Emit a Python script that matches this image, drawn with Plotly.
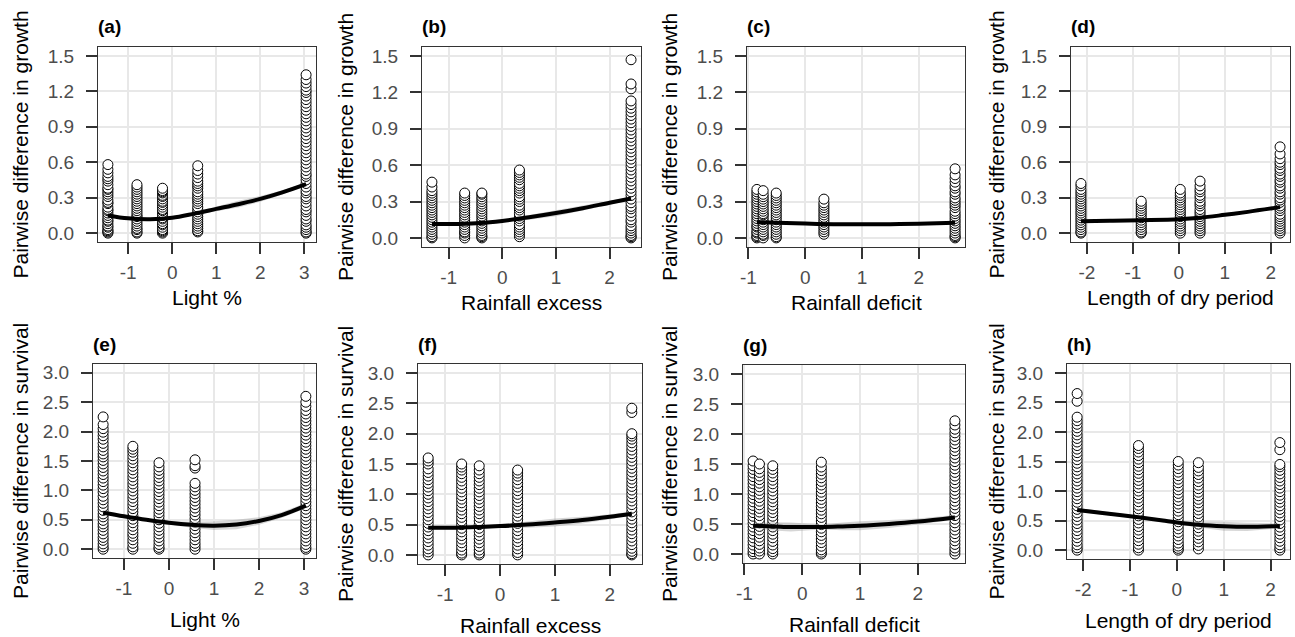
import plotly.graph_objects as go

W, H = 1295, 637

# ---------------- data ----------------
light_x = [-1.46, -0.80, -0.22, 0.58, 3.04]
excess_x = [-1.31, -0.70, -0.38, 0.32, 2.40]
deficit_x = [-0.85, -0.74, -0.51, 0.33, 2.64]
dry_x = [-2.13, -0.82, 0.03, 0.46, 2.20]

# growth (row 1)
a1 = [0.0, 0.01, 0.02, 0.03, 0.05, 0.06, 0.08, 0.1, 0.11, 0.13, 0.15, 0.17, 0.19, 0.2, 0.22, 0.25, 0.26, 0.28, 0.31, 0.33, 0.35, 0.37, 0.38, 0.41, 0.44, 0.46, 0.48, 0.51, 0.54, 0.58]
a2 = [0.0, 0.01, 0.03, 0.04, 0.06, 0.08, 0.1, 0.12, 0.14, 0.15, 0.17, 0.19, 0.21, 0.23, 0.25, 0.27, 0.29, 0.31, 0.33, 0.35, 0.37, 0.39, 0.41]
a3 = [0.0, 0.01, 0.02, 0.03, 0.05, 0.07, 0.08, 0.1, 0.12, 0.13, 0.15, 0.17, 0.19, 0.2, 0.22, 0.24, 0.26, 0.27, 0.29, 0.31, 0.32, 0.34, 0.35, 0.36, 0.38]
a4 = [0.01, 0.02, 0.04, 0.06, 0.08, 0.1, 0.12, 0.14, 0.16, 0.18, 0.2, 0.22, 0.25, 0.27, 0.29, 0.31, 0.33, 0.35, 0.38, 0.4, 0.42, 0.44, 0.47, 0.5, 0.53, 0.57]
a5 = [0.0, 0.01, 0.03, 0.05, 0.07, 0.1, 0.12, 0.15, 0.18, 0.2, 0.23, 0.26, 0.29, 0.31, 0.34, 0.36, 0.39, 0.42, 0.45, 0.48, 0.5, 0.53, 0.56, 0.59, 0.62, 0.65, 0.68, 0.71, 0.74, 0.77, 0.8, 0.83, 0.86, 0.89, 0.92, 0.95, 0.98, 1.01, 1.04, 1.07, 1.1, 1.13, 1.16, 1.19, 1.21, 1.24, 1.27, 1.3, 1.34]

b1 = [0.0, 0.01, 0.03, 0.05, 0.07, 0.09, 0.11, 0.13, 0.15, 0.17, 0.19, 0.21, 0.23, 0.25, 0.27, 0.29, 0.31, 0.33, 0.35, 0.37, 0.39, 0.42, 0.46]
b2 = [0.0, 0.02, 0.04, 0.05, 0.07, 0.09, 0.11, 0.13, 0.15, 0.17, 0.19, 0.21, 0.23, 0.25, 0.27, 0.29, 0.31, 0.33, 0.35, 0.37]
b3 = [0.0, 0.01, 0.02, 0.04, 0.06, 0.08, 0.1, 0.12, 0.14, 0.16, 0.18, 0.2, 0.22, 0.24, 0.26, 0.28, 0.3, 0.32, 0.34, 0.36, 0.37]
b4 = [0.01, 0.03, 0.05, 0.07, 0.09, 0.11, 0.14, 0.16, 0.18, 0.2, 0.23, 0.25, 0.27, 0.3, 0.32, 0.34, 0.37, 0.39, 0.41, 0.43, 0.45, 0.48, 0.5, 0.52, 0.54, 0.56]
b5 = [0.0, 0.01, 0.02, 0.04, 0.06, 0.08, 0.1, 0.13, 0.15, 0.18, 0.21, 0.24, 0.26, 0.29, 0.32, 0.35, 0.38, 0.41, 0.44, 0.47, 0.5, 0.53, 0.56, 0.59, 0.62, 0.65, 0.68, 0.71, 0.74, 0.77, 0.8, 0.83, 0.86, 0.89, 0.92, 0.95, 0.98, 1.01, 1.04, 1.07, 1.1, 1.13, 1.23, 1.27, 1.47]

c1 = [0.0, 0.01, 0.02, 0.04, 0.05, 0.07, 0.09, 0.1, 0.12, 0.14, 0.16, 0.18, 0.2, 0.22, 0.24, 0.26, 0.28, 0.3, 0.32, 0.34, 0.36, 0.38, 0.4]
c2 = [0.0, 0.02, 0.03, 0.05, 0.07, 0.09, 0.11, 0.13, 0.15, 0.17, 0.19, 0.2, 0.22, 0.24, 0.26, 0.28, 0.3, 0.32, 0.34, 0.36, 0.39]
c3 = [0.0, 0.01, 0.03, 0.05, 0.07, 0.09, 0.11, 0.13, 0.15, 0.17, 0.19, 0.21, 0.23, 0.25, 0.27, 0.29, 0.31, 0.33, 0.35, 0.37]
c4 = [0.03, 0.05, 0.07, 0.09, 0.11, 0.13, 0.15, 0.17, 0.19, 0.21, 0.23, 0.25, 0.27, 0.29, 0.32]
c5 = [0.0, 0.01, 0.02, 0.04, 0.06, 0.08, 0.1, 0.12, 0.14, 0.16, 0.18, 0.2, 0.22, 0.25, 0.27, 0.29, 0.31, 0.33, 0.36, 0.38, 0.41, 0.43, 0.46, 0.49, 0.52, 0.57]

d1 = [0.0, 0.01, 0.03, 0.05, 0.07, 0.09, 0.11, 0.13, 0.15, 0.17, 0.19, 0.21, 0.23, 0.25, 0.27, 0.29, 0.31, 0.33, 0.35, 0.37, 0.4, 0.42]
d2 = [0.0, 0.01, 0.03, 0.05, 0.07, 0.09, 0.11, 0.13, 0.15, 0.17, 0.19, 0.21, 0.23, 0.25, 0.27]
d3 = [0.0, 0.02, 0.04, 0.06, 0.08, 0.1, 0.12, 0.14, 0.16, 0.18, 0.2, 0.22, 0.24, 0.26, 0.28, 0.3, 0.32, 0.34, 0.37]
d4 = [0.0, 0.02, 0.04, 0.06, 0.08, 0.1, 0.12, 0.14, 0.16, 0.18, 0.2, 0.23, 0.25, 0.27, 0.3, 0.32, 0.35, 0.37, 0.4, 0.44]
d5 = [0.0, 0.02, 0.04, 0.06, 0.08, 0.1, 0.12, 0.14, 0.16, 0.19, 0.21, 0.23, 0.26, 0.28, 0.3, 0.33, 0.35, 0.38, 0.4, 0.43, 0.45, 0.48, 0.5, 0.53, 0.55, 0.58, 0.6, 0.63, 0.67, 0.73]

# survival (row 2)
e1 = [0.0, 0.04, 0.09, 0.15, 0.2, 0.26, 0.32, 0.38, 0.43, 0.49, 0.55, 0.6, 0.66, 0.72, 0.78, 0.84, 0.9, 0.97, 1.03, 1.09, 1.15, 1.21, 1.27, 1.33, 1.39, 1.45, 1.51, 1.57, 1.62, 1.68, 1.74, 1.8, 1.87, 1.93, 1.99, 2.05, 2.12, 2.25]
e2 = [0.0, 0.04, 0.1, 0.16, 0.22, 0.27, 0.33, 0.39, 0.45, 0.51, 0.57, 0.63, 0.69, 0.75, 0.81, 0.87, 0.93, 0.99, 1.05, 1.11, 1.17, 1.23, 1.29, 1.35, 1.41, 1.47, 1.53, 1.59, 1.65, 1.7, 1.75]
e3 = [0.0, 0.03, 0.08, 0.14, 0.2, 0.26, 0.32, 0.38, 0.44, 0.5, 0.56, 0.62, 0.68, 0.74, 0.8, 0.86, 0.92, 0.98, 1.04, 1.1, 1.16, 1.22, 1.28, 1.34, 1.4, 1.47]
e4 = [0.0, 0.05, 0.1, 0.16, 0.22, 0.28, 0.34, 0.4, 0.46, 0.52, 0.58, 0.64, 0.7, 0.76, 0.82, 0.88, 0.94, 1.0, 1.06, 1.12, 1.38, 1.42, 1.52]
e5 = [0.0, 0.03, 0.08, 0.14, 0.2, 0.26, 0.32, 0.38, 0.44, 0.5, 0.56, 0.62, 0.68, 0.74, 0.8, 0.86, 0.92, 0.98, 1.04, 1.1, 1.16, 1.22, 1.28, 1.34, 1.4, 1.46, 1.52, 1.58, 1.64, 1.7, 1.76, 1.82, 1.88, 1.94, 2.0, 2.06, 2.12, 2.18, 2.24, 2.3, 2.36, 2.43, 2.5, 2.6]

f1 = [0.0, 0.05, 0.1, 0.16, 0.22, 0.28, 0.34, 0.4, 0.46, 0.52, 0.58, 0.64, 0.7, 0.76, 0.82, 0.88, 0.94, 1.0, 1.06, 1.12, 1.18, 1.24, 1.3, 1.36, 1.42, 1.5, 1.55, 1.6]
f2 = [0.0, 0.03, 0.08, 0.14, 0.2, 0.26, 0.32, 0.38, 0.44, 0.5, 0.56, 0.62, 0.68, 0.74, 0.8, 0.86, 0.92, 0.98, 1.04, 1.1, 1.16, 1.22, 1.28, 1.34, 1.4, 1.45, 1.5]
f3 = [0.0, 0.03, 0.08, 0.14, 0.2, 0.26, 0.32, 0.38, 0.44, 0.5, 0.56, 0.62, 0.68, 0.74, 0.8, 0.86, 0.92, 0.98, 1.04, 1.1, 1.16, 1.22, 1.28, 1.34, 1.4, 1.47]
f4 = [0.0, 0.04, 0.1, 0.16, 0.22, 0.28, 0.34, 0.4, 0.46, 0.52, 0.58, 0.64, 0.7, 0.76, 0.82, 0.88, 0.94, 1.0, 1.06, 1.12, 1.18, 1.24, 1.3, 1.35, 1.4]
f5 = [0.0, 0.02, 0.06, 0.11, 0.17, 0.23, 0.29, 0.35, 0.41, 0.47, 0.53, 0.59, 0.65, 0.71, 0.77, 0.83, 0.89, 0.95, 1.01, 1.07, 1.13, 1.19, 1.25, 1.31, 1.37, 1.43, 1.49, 1.55, 1.61, 1.67, 1.73, 1.79, 1.85, 1.91, 1.96, 2.0, 2.35, 2.42]

g1 = [0.0, 0.04, 0.09, 0.15, 0.21, 0.27, 0.33, 0.39, 0.45, 0.51, 0.57, 0.63, 0.69, 0.75, 0.81, 0.87, 0.93, 0.99, 1.05, 1.11, 1.17, 1.23, 1.29, 1.35, 1.41, 1.47, 1.55]
g2 = [0.0, 0.05, 0.1, 0.16, 0.22, 0.28, 0.34, 0.4, 0.46, 0.52, 0.58, 0.64, 0.7, 0.76, 0.82, 0.88, 0.94, 1.0, 1.06, 1.12, 1.18, 1.24, 1.3, 1.36, 1.42, 1.5]
g3 = [0.0, 0.04, 0.09, 0.15, 0.21, 0.27, 0.33, 0.39, 0.45, 0.51, 0.57, 0.63, 0.69, 0.75, 0.81, 0.87, 0.93, 0.99, 1.05, 1.11, 1.17, 1.23, 1.29, 1.35, 1.41, 1.47]
g4 = [0.0, 0.03, 0.07, 0.13, 0.19, 0.25, 0.31, 0.37, 0.43, 0.49, 0.55, 0.61, 0.67, 0.73, 0.79, 0.85, 0.91, 0.97, 1.03, 1.09, 1.15, 1.21, 1.27, 1.33, 1.39, 1.45, 1.53]
g5 = [0.0, 0.05, 0.1, 0.16, 0.22, 0.28, 0.34, 0.4, 0.46, 0.52, 0.58, 0.64, 0.7, 0.76, 0.82, 0.88, 0.94, 1.0, 1.06, 1.12, 1.18, 1.24, 1.3, 1.36, 1.42, 1.48, 1.54, 1.6, 1.66, 1.72, 1.78, 1.84, 1.9, 1.96, 2.02, 2.08, 2.15, 2.22]

h1 = [0.0, 0.04, 0.09, 0.15, 0.21, 0.27, 0.33, 0.39, 0.45, 0.51, 0.57, 0.63, 0.69, 0.75, 0.81, 0.87, 0.93, 0.99, 1.05, 1.11, 1.17, 1.23, 1.29, 1.35, 1.41, 1.47, 1.53, 1.59, 1.65, 1.71, 1.77, 1.83, 1.89, 1.95, 2.01, 2.07, 2.13, 2.19, 2.25, 2.52, 2.65]
h2 = [0.0, 0.04, 0.1, 0.16, 0.22, 0.28, 0.34, 0.4, 0.46, 0.52, 0.58, 0.64, 0.7, 0.76, 0.82, 0.88, 0.94, 1.0, 1.06, 1.12, 1.18, 1.24, 1.3, 1.36, 1.42, 1.48, 1.54, 1.6, 1.66, 1.72, 1.77]
h3 = [0.0, 0.03, 0.07, 0.12, 0.18, 0.24, 0.3, 0.36, 0.42, 0.48, 0.54, 0.6, 0.66, 0.72, 0.78, 0.84, 0.9, 0.96, 1.02, 1.08, 1.14, 1.2, 1.26, 1.32, 1.38, 1.44, 1.5]
h4 = [0.02, 0.08, 0.14, 0.2, 0.26, 0.32, 0.38, 0.44, 0.5, 0.56, 0.62, 0.68, 0.74, 0.8, 0.86, 0.92, 0.98, 1.04, 1.1, 1.16, 1.22, 1.28, 1.34, 1.4, 1.48]
h5 = [0.0, 0.04, 0.09, 0.15, 0.21, 0.27, 0.33, 0.39, 0.45, 0.51, 0.57, 0.63, 0.69, 0.75, 0.81, 0.87, 0.93, 0.99, 1.05, 1.11, 1.17, 1.23, 1.29, 1.35, 1.41, 1.45, 1.7, 1.82]

# fitted smooth curves (x, fit, half-width of band)
fit_a_x = [-1.46, -1.0, -0.5, 0.0, 0.5, 1.0, 1.5, 2.0, 2.5, 3.04]
fit_a_y = [0.15, 0.125, 0.118, 0.13, 0.165, 0.205, 0.245, 0.29, 0.345, 0.415]
fit_a_se = [0.012, 0.01, 0.008, 0.008, 0.012, 0.022, 0.028, 0.025, 0.018, 0.014]
fit_b_x = [-1.31, -0.8, -0.4, 0.0, 0.5, 1.0, 1.5, 2.0, 2.4]
fit_b_y = [0.115, 0.115, 0.122, 0.14, 0.17, 0.205, 0.245, 0.29, 0.325]
fit_b_se = [0.01, 0.008, 0.008, 0.01, 0.02, 0.026, 0.022, 0.016, 0.012]
fit_c_x = [-0.85, -0.5, 0.0, 0.5, 1.0, 1.5, 2.0, 2.64]
fit_c_y = [0.13, 0.125, 0.118, 0.113, 0.112, 0.113, 0.117, 0.125]
fit_c_se = [0.008, 0.007, 0.008, 0.01, 0.01, 0.009, 0.008, 0.008]
fit_d_x = [-2.13, -1.5, -0.82, 0.0, 0.46, 1.0, 1.5, 2.2]
fit_d_y = [0.10, 0.105, 0.11, 0.118, 0.13, 0.155, 0.18, 0.22]
fit_d_se = [0.008, 0.007, 0.007, 0.008, 0.01, 0.013, 0.013, 0.01]
fit_e_x = [-1.46, -1.0, -0.5, 0.0, 0.5, 1.0, 1.5, 2.0, 2.5, 3.04]
fit_e_y = [0.62, 0.56, 0.5, 0.45, 0.415, 0.4, 0.42, 0.48, 0.58, 0.74]
fit_e_se = [0.035, 0.03, 0.025, 0.03, 0.05, 0.075, 0.08, 0.065, 0.05, 0.045]
fit_f_x = [-1.31, -0.8, -0.4, 0.0, 0.5, 1.0, 1.5, 2.0, 2.4]
fit_f_y = [0.45, 0.45, 0.46, 0.475, 0.5, 0.535, 0.575, 0.63, 0.68]
fit_f_se = [0.025, 0.02, 0.02, 0.03, 0.05, 0.065, 0.055, 0.04, 0.035]
fit_g_x = [-0.85, -0.5, -0.2, 0.0, 0.34, 0.7, 1.0, 1.5, 2.0, 2.64]
fit_g_y = [0.47, 0.46, 0.45, 0.45, 0.45, 0.46, 0.47, 0.5, 0.54, 0.61]
fit_g_se = [0.04, 0.07, 0.075, 0.06, 0.04, 0.065, 0.075, 0.065, 0.05, 0.04]
fit_h_x = [-2.13, -1.5, -0.82, -0.3, 0.04, 0.46, 1.0, 1.5, 2.2]
fit_h_y = [0.68, 0.62, 0.555, 0.5, 0.465, 0.43, 0.405, 0.395, 0.41]
fit_h_se = [0.035, 0.025, 0.025, 0.03, 0.035, 0.05, 0.075, 0.07, 0.04]

x_labels = ["Light %", "Rainfall excess", "Rainfall deficit", "Length of dry period"]
y_labels = ["Pairwise difference in growth", "Pairwise difference in survival"]
panel_tags = ["(a)", "(b)", "(c)", "(d)", "(e)", "(f)", "(g)", "(h)"]
x_ticks = [[-1, 0, 1, 2, 3], [-1, 0, 1, 2], [-1, 0, 1, 2], [-2, -1, 0, 1, 2]]
x_ticktext = [["-1", "0", "1", "2", "3"], ["-1", "0", "1", "2"], ["-1", "0", "1", "2"], ["-2", "-1", "0", "1", "2"]]
growth_ticks = [0.0, 0.3, 0.6, 0.9, 1.2, 1.5]
survival_ticks = [0.0, 0.5, 1.0, 1.5, 2.0, 2.5, 3.0]
growth_limits = [0.0, 1.5]
survival_limits = [0.0, 3.0]

# ---------------- assemble ----------------
col_xs = [light_x, excess_x, deficit_x, dry_x]
panel_cols = [[a1, a2, a3, a4, a5], [b1, b2, b3, b4, b5], [c1, c2, c3, c4, c5], [d1, d2, d3, d4, d5],
              [e1, e2, e3, e4, e5], [f1, f2, f3, f4, f5], [g1, g2, g3, g4, g5], [h1, h2, h3, h4, h5]]
fits = [(fit_a_x, fit_a_y, fit_a_se), (fit_b_x, fit_b_y, fit_b_se), (fit_c_x, fit_c_y, fit_c_se),
        (fit_d_x, fit_d_y, fit_d_se), (fit_e_x, fit_e_y, fit_e_se), (fit_f_x, fit_f_y, fit_f_se),
        (fit_g_x, fit_g_y, fit_g_se), (fit_h_x, fit_h_y, fit_h_se)]

# panel boxes in pixels (left, top, right, bottom)
boxes = [(98, 47, 316, 242), (422, 47, 641, 247), (747, 47, 965, 247), (1071, 47, 1290, 242),
         (93, 364, 316, 558), (418, 364, 642, 564), (743, 365, 965, 563), (1067, 364, 1290, 559)]
ytitle_x = [20, 345, 669, 996]

FONT = "Liberation Sans, Arial, sans-serif"
fig = go.Figure()
layout = dict(template="none", width=W, height=H, margin=dict(l=0, r=0, t=0, b=0, pad=0),
              paper_bgcolor="white", plot_bgcolor="white", showlegend=False, annotations=[])


def fx(p):
    return p / W


def fy(p):
    return 1 - p / H


def expand(lo, hi, m=0.05):
    d = (hi - lo) * m
    return [lo - d, hi + d]


for i in range(8):
    row, col = divmod(i, 4)
    xs = col_xs[col]
    l, t, r, b = boxes[i]
    suf = "" if i == 0 else str(i + 1)
    xa, ya = "x" + suf, "y" + suf
    for cx, cy in zip(xs, panel_cols[i]):
        fig.add_trace(go.Scatter(x=[cx] * len(cy), y=cy, mode="markers", xaxis=xa, yaxis=ya,
                                 marker=dict(symbol="circle", size=10, color="white",
                                             line=dict(color="black", width=1)),
                                 hoverinfo="skip"))
    fxv, fyv, fse = fits[i]
    up = [a + s for a, s in zip(fyv, fse)]
    lo = [a - s for a, s in zip(fyv, fse)]
    fig.add_trace(go.Scatter(x=fxv + fxv[::-1], y=up + lo[::-1], mode="lines", fill="toself",
                             fillcolor="rgba(153,153,153,0.4)", line=dict(width=0),
                             xaxis=xa, yaxis=ya, hoverinfo="skip"))
    fig.add_trace(go.Scatter(x=fxv, y=fyv, mode="lines", line=dict(color="black", width=4, shape="spline"),
                             xaxis=xa, yaxis=ya, hoverinfo="skip"))

    lim = growth_limits if row == 0 else survival_limits
    yt = growth_ticks if row == 0 else survival_ticks
    axis_common = dict(showgrid=True, gridcolor="#e8e8e8", gridwidth=1.5, zeroline=False,
                       showline=True, linecolor="#333333", linewidth=1, mirror=True,
                       ticks="outside", ticklen=11, tickwidth=1.5, tickcolor="#333333",
                       automargin=False,
                       tickfont=dict(family=FONT, size=19, color="#4d4d4d"))
    layout["xaxis" + suf] = dict(axis_common, domain=[fx(l), fx(r)], range=expand(min(xs), max(xs)),
                                 tickvals=x_ticks[col], ticktext=x_ticktext[col], anchor=ya,
                                 ticklabelstandoff=2)
    layout["yaxis" + suf] = dict(axis_common, domain=[fy(b), fy(t)], range=expand(lim[0], lim[1]),
                                 tickvals=yt, tickformat=".1f", anchor=xa, ticklabelstandoff=8)
    # panel tag
    layout["annotations"].append(dict(text="<b>%s</b>" % panel_tags[i], x=fx(l - 1), y=fy(t - 20),
                                      xref="paper", yref="paper", xanchor="left", yanchor="middle",
                                      borderpad=0, showarrow=False,
                                      font=dict(family=FONT, size=19, color="black")))
    # x title
    layout["annotations"].append(dict(text=x_labels[col], x=fx((l + r) / 2),
                                      y=fy(b + (55 if row == 0 else 61)),
                                      xref="paper", yref="paper", xanchor="center", yanchor="middle",
                                      borderpad=0, showarrow=False,
                                      font=dict(family=FONT, size=21, color="black")))
    # y title
    layout["annotations"].append(dict(text=y_labels[row], x=fx(ytitle_x[col]), y=fy((t + b) / 2),
                                      xref="paper", yref="paper", xanchor="center", yanchor="middle",
                                      textangle=-90, borderpad=0, showarrow=False,
                                      font=dict(family=FONT, size=21, color="black")))

fig.update_layout(**layout)
fig.write_html("out.html")
